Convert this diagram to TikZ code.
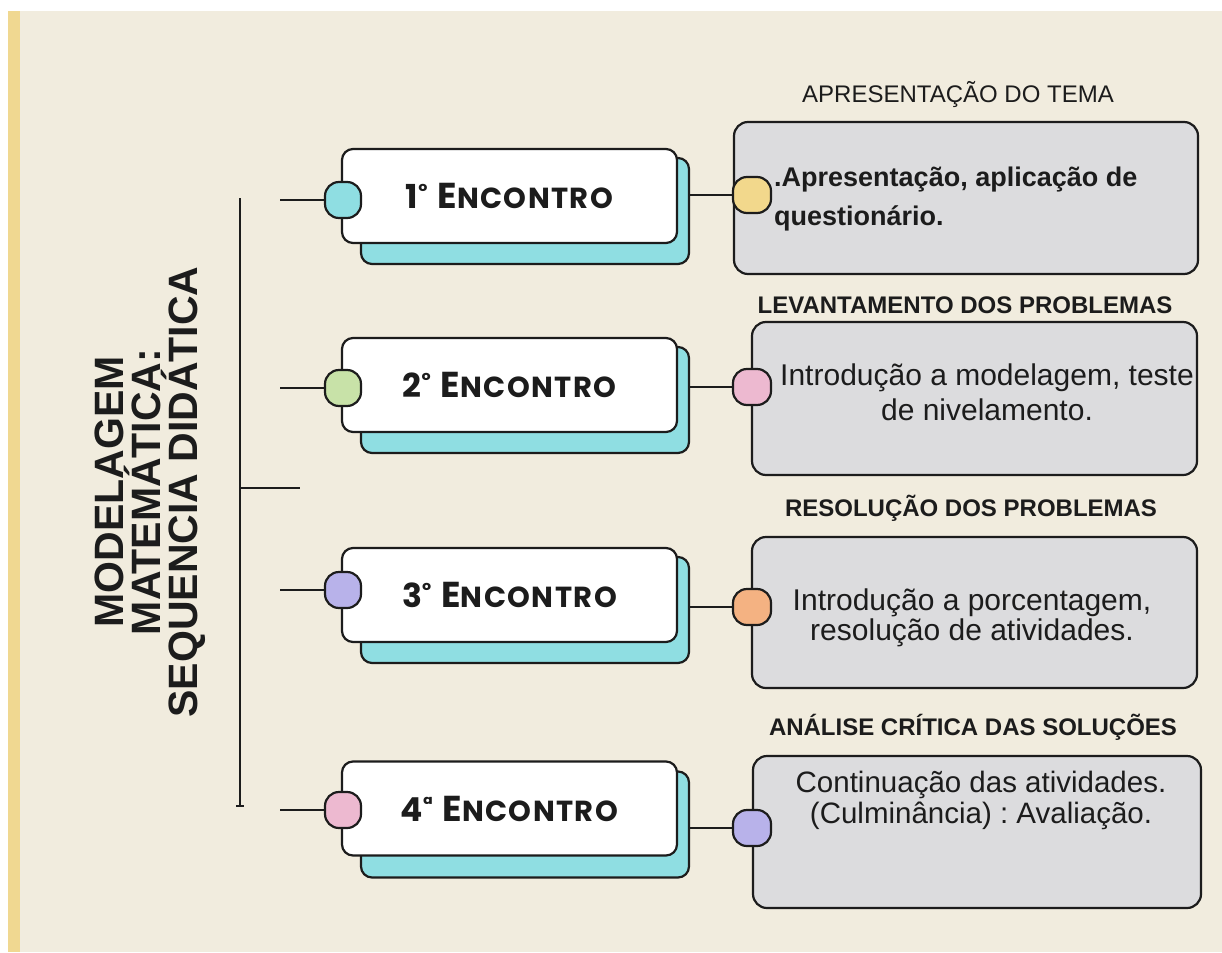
\documentclass[tikz,border=0pt]{standalone}
\usepackage{fontspec}
\setmainfont{Liberation Sans}
\newfontfamily\handfont{Poppins}
\frenchspacing
\definecolor{bgc}{RGB}{241,236,222}
\definecolor{stripc}{RGB}{240,216,145}
\definecolor{cyanc}{RGB}{143,222,226}
\definecolor{greenc}{RGB}{200,226,168}
\definecolor{purplec}{RGB}{184,178,234}
\definecolor{pinkc}{RGB}{237,185,208}
\definecolor{yellowc}{RGB}{242,216,140}
\definecolor{orangec}{RGB}{244,178,130}
\definecolor{grayc}{RGB}{220,220,222}
\definecolor{inkc}{RGB}{28,28,28}
\tikzset{
  shadowbox/.style={draw=inkc, line width=2.2pt, fill=cyanc, rounded corners=11pt,
    minimum width=328pt, minimum height=106pt, inner sep=0pt},
  whitebox/.style={draw=inkc, line width=2.2pt, fill=white, rounded corners=11pt,
    minimum width=335pt, minimum height=94pt, inner sep=0pt,
    font=\handfont\bfseries\fontsize{24}{28}\selectfont, text=inkc},
  dot/.style={draw=inkc, line width=2.2pt, rounded corners=14pt,
    minimum width=36pt, minimum height=36pt, inner sep=0pt},
  graybox/.style={draw=inkc, line width=2.2pt, fill=grayc, rounded corners=14pt, inner sep=0pt},
  link/.style={draw=inkc, line width=2pt},
  title/.style={font=\fontsize{24}{28}\selectfont, text=inkc, inner sep=0pt},
  btitle/.style={font=\bfseries\fontsize{24}{28}\selectfont, text=inkc, inner sep=0pt},
  body/.style={font=\fontsize{30}{31}\selectfont, text=inkc, align=center, inner sep=0pt},
}
\newcommand{\enc}[2]{{\fontsize{33}{33}\selectfont #1}{\fontsize{20}{20}\selectfont\raisebox{10pt}{#2}}\hspace{10pt}{\fontsize{36}{36}\selectfont E}\addfontfeature{LetterSpace=5}{\fontsize{29}{29}\selectfont NCONTRO}}
\begin{document}
\begin{tikzpicture}[x=1pt,y=-1pt]
\useasboundingbox (0,0) rectangle (1222,952);
\fill[white] (0,0) rectangle (1222,952);
\fill[bgc] (8,11) rectangle (1222,952);
\fill[stripc] (8,11) rectangle (20,952);

% spine
\coordinate (sp1) at (240,198);
\coordinate (sp2) at (240,806);
\coordinate (spm) at (300,488);
\draw[link] (sp1) -- (sp2);
\draw[link] ([xshift=-4pt]sp2) -- ([xshift=4pt]sp2);
\draw[link] (sp1 |- spm) -- (spm);

% title
\node[rotate=90, align=center, font=\bfseries\fontsize{41}{37}\selectfont, text=inkc] (ttl) at (150,492)
  {MODELAGEM\\MATEMÁTICA:\\SEQUENCIA DIDÁTICA};

% encounter boxes
\node[shadowbox] (s1) at (525,211) {};
\node[shadowbox] (s2) at (525,400) {};
\node[shadowbox] (s3) at (525,610) {};
\node[shadowbox] (s4) at (525,824.5) {};

\node[whitebox] (w1) at (509.5,196) {\enc{1}{º}};
\node[whitebox] (w2) at (509.5,385) {\enc{2}{º}};
\node[whitebox] (w3) at (509.5,595) {\enc{3}{º}};
\node[whitebox] (w4) at (509.5,808.5) {\enc{4}{ª}};

\node[dot, fill=cyanc] (l1) at (343,200) {};
\node[dot, fill=greenc] (l2) at (343,388) {};
\node[dot, fill=purplec] (l3) at (343,590) {};
\node[dot, fill=pinkc] (l4) at (343,810) {};

\coordinate (a1) at (280,200);
\coordinate (a2) at (280,388);
\coordinate (a3) at (280,590);
\coordinate (a4) at (280,810);
\draw[link] (a1) -- (l1.west);
\draw[link] (a2) -- (l2.west);
\draw[link] (a3) -- (l3.west);
\draw[link] (a4) -- (l4.west);

% gray boxes
\node[graybox, minimum width=464pt, minimum height=152pt] (g1) at (966,198) {};
\node[graybox, minimum width=445pt, minimum height=153pt] (g2) at (974.5,398.5) {};
\node[graybox, minimum width=445pt, minimum height=151pt] (g3) at (974.5,612.5) {};
\node[graybox, minimum width=448pt, minimum height=152pt] (g4) at (977,832) {};

\node[dot, fill=yellowc, minimum width=38pt] (r1) at (752,195) {};
\node[dot, fill=pinkc, minimum width=38pt] (r2) at (752,387) {};
\node[dot, fill=orangec, minimum width=38pt] (r3) at (752,607) {};
\node[dot, fill=purplec, minimum width=38pt] (r4) at (752,828) {};

\draw[link] (s1.east |- r1.west) -- (r1.west);
\draw[link] (s2.east |- r2.west) -- (r2.west);
\draw[link] (s3.east |- r3.west) -- (r3.west);
\draw[link] (s4.east |- r4.west) -- (r4.west);

% titles
\node[title] (t1) at (958,95) {APRESENTAÇÃO DO TEMA};
\node[btitle] (t2) at (965,305) {LEVANTAMENTO DOS PROBLEMAS};
\node[btitle] (t3) at (971,508) {RESOLUÇÃO DOS PROBLEMAS};
\node[btitle] (t4) at (973,727) {ANÁLISE CRÍTICA DAS SOLUÇÕES};

% texts (base anchor = baseline of the last line)
\node[font=\bfseries\fontsize{27}{39}\selectfont, text=inkc, align=left, inner sep=0pt, anchor=base west] (x1) at (774,225)
  {.Apresentação, aplicação de\\questionário.};
\node[body, font=\fontsize{30}{35}\selectfont, anchor=base] (x2) at (987,420)
  {Introdução a modelagem, teste\\de nivelamento.};
\node[body, font=\fontsize{30}{30}\selectfont, anchor=base] (x3) at (972,640)
  {Introdução a porcentagem,\\resolução de atividades.};
\node[body, font=\fontsize{29.5}{31}\selectfont, anchor=base] (x4) at (981,823)
  {Continuação das atividades.\\(Culminância) : Avaliação.};
\end{tikzpicture}
\end{document}
